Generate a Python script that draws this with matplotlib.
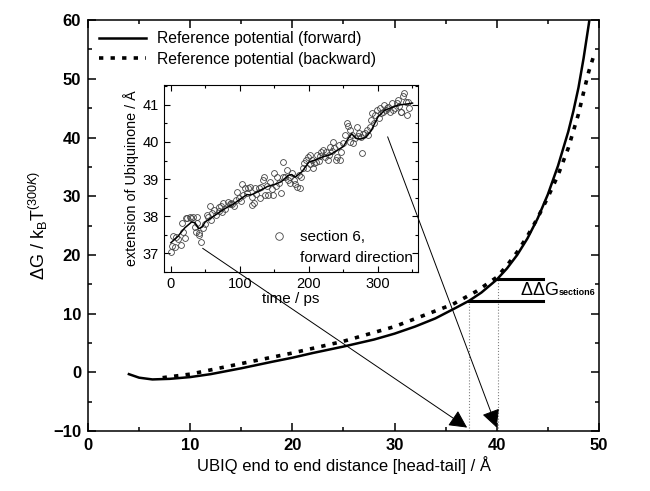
import numpy as np
import matplotlib
matplotlib.use("Agg")
from matplotlib import pyplot as plt
from matplotlib.patches import ConnectionPatch
from matplotlib.ticker import MultipleLocator

plt.rcParams['font.family'] = ['Liberation Sans', 'DejaVu Sans']
plt.rcParams['mathtext.fontset'] = 'custom'
plt.rcParams['mathtext.rm'] = 'Liberation Sans'
plt.rcParams['mathtext.it'] = 'Liberation Sans:italic'
plt.rcParams['mathtext.bf'] = 'Liberation Sans:bold'

# reference potential, forward pulling
fw_x = [4.0, 5.0, 6.3, 8.0, 10.0, 12.0, 15.0, 18.0, 20.0, 22.0, 25.0, 28.0, 30.0,
        32.0, 34.0, 36.0, 37.3, 38.5, 40.0, 41.0, 42.0, 43.0, 44.0, 45.0, 46.0,
        47.0, 47.5, 48.0, 48.5, 49.0, 49.15]
fw_y = [-0.3, -0.9, -1.2, -1.1, -0.8, -0.3, 0.7, 1.8, 2.5, 3.3, 4.4, 5.6, 6.6,
        7.8, 9.2, 11.0, 12.2, 13.6, 15.8, 17.7, 20.0, 22.8, 26.2, 30.3, 35.2,
        41.0, 44.5, 48.5, 53.5, 59.2, 61.0]

# reference potential, backward pulling
bw_x = [7.3, 10.0, 15.0, 20.0, 25.0, 30.0, 33.0, 35.7, 38.0, 40.0, 41.0, 42.0,
        43.0, 44.0, 45.0, 46.0, 47.0, 48.0, 48.5, 49.0, 49.6]
bw_y = [-0.9, -0.3, 1.5, 3.3, 5.3, 7.8, 9.8, 11.6, 13.8, 16.2, 18.2, 20.5,
        23.2, 26.3, 29.8, 33.6, 38.2, 44.0, 47.7, 51.2, 54.5]

# inset: section 6, forward direction
t_pts = [0, 2, 6, 3, 7, 11, 14, 16, 18, 20, 22, 24, 27, 29, 32, 35, 36, 38, 40,
         41, 43, 38, 47, 49, 52, 54, 56, 58, 60, 62, 65, 69, 70, 72, 74, 76, 78,
         82, 85, 87, 89, 91, 94, 96, 99, 101, 103, 105, 107, 110, 112, 115, 117,
         118, 120, 122, 124, 127, 129, 131, 134, 135, 136, 139, 141, 144, 146,
         148, 150, 152, 154, 157, 159, 162, 163, 165, 168, 170, 172, 173, 176,
         178, 180, 182, 185, 187, 189, 191, 193, 195, 197, 199, 201, 202, 205,
         206, 208, 210, 212, 214, 216, 218, 221, 223, 225, 227, 229, 230, 233,
         235, 237, 239, 241, 243, 245, 247, 250, 252, 255, 257, 259, 260, 262,
         264, 267, 269, 271, 273, 275, 277, 279, 281, 284, 286, 288, 290, 292,
         294, 296, 298, 301, 303, 305, 307, 309, 311, 313, 315, 317, 320, 322,
         325, 327, 329, 331, 333, 334, 336, 338, 340, 342, 344, 345]
ext_pts = [37.04, 37.20, 37.17, 37.46, 37.44, 37.37, 37.23, 37.80, 37.58, 37.40,
           37.96, 37.94, 37.98, 37.96, 37.97, 37.70, 37.58, 37.80, 37.55, 37.49,
           37.31, 37.98, 37.67, 37.78, 38.03, 37.98, 38.27, 37.89, 38.07, 38.16,
           38.03, 38.14, 38.25, 38.27, 38.12, 38.34, 38.20, 38.39, 38.32, 38.36,
           38.32, 38.27, 38.43, 38.66, 38.48, 38.42, 38.86, 38.57, 38.75, 38.61,
           38.75, 38.79, 38.52, 38.30, 38.36, 38.75, 38.59, 38.75, 38.48, 38.79,
           38.97, 39.06, 38.57, 38.81, 38.57, 38.93, 38.72, 38.57, 39.15, 38.81,
           39.06, 38.88, 38.61, 39.06, 39.47, 39.06, 39.24, 38.97, 39.06, 38.88,
           39.15, 38.97, 38.86, 38.79, 39.11, 38.77, 39.06, 39.29, 39.42, 39.51,
           39.29, 39.60, 39.40, 39.65, 39.51, 39.29, 39.42, 39.47, 39.65, 39.50,
           39.62, 39.74, 39.78, 39.59, 39.74, 39.51, 39.65, 39.87, 39.77, 40.01,
           39.83, 39.51, 39.60, 39.92, 39.51, 39.74, 39.96, 40.19, 40.52, 40.43,
           40.32, 40.01, 40.19, 39.96, 40.10, 40.41, 40.16, 40.23, 40.14, 39.69,
           40.22, 40.23, 40.32, 40.19, 40.41, 40.59, 40.77, 40.50, 40.73, 40.86,
           40.64, 40.91, 40.77, 40.82, 41.00, 40.86, 40.91, 40.95, 40.82, 41.05,
           40.86, 40.91, 41.05, 41.14, 40.97, 40.82, 40.82, 41.23, 41.32, 41.09,
           40.73, 41.09, 40.91]

# smoothed trace drawn through the inset points
t_avg = [0, 10, 20, 30, 35, 40, 45, 50, 60, 70, 80, 90, 100, 110, 115, 120, 130,
         140, 150, 160, 170, 175, 180, 190, 200, 210, 220, 230, 240, 250, 257,
         262, 268, 275, 282, 290, 300, 310, 320, 330, 340, 350]
ext_avg = [37.28, 37.45, 37.68, 37.84, 37.82, 37.66, 37.70, 37.85, 37.97, 38.10,
           38.22, 38.32, 38.45, 38.58, 38.57, 38.60, 38.70, 38.80, 38.85, 38.93,
           39.10, 39.12, 39.05, 39.20, 39.46, 39.52, 39.60, 39.65, 39.76, 39.88,
           40.10, 40.22, 40.10, 40.08, 40.12, 40.30, 40.68, 40.86, 40.93, 41.00,
           41.02, 41.05]

# ddG construction
x_lo, x_hi, x_end = 37.3, 40.1, 44.5
g_lo, g_hi = 12.2, 15.9

fig = plt.figure(figsize=(6.5, 4.91), dpi=100)
ax = fig.add_axes([0.1354, 0.122, 0.786, 0.837])

ax.plot(fw_x, fw_y, color='black', lw=1.8, label='Reference potential (forward)')
ax.plot(bw_x, bw_y, color='black', lw=2.6, dashes=(1.2, 2.0),
        label='Reference potential (backward)')

ax.plot([x_lo, x_lo], [-10, g_lo], color='gray', lw=0.8, ls=':')
ax.plot([x_hi, x_hi], [-10, g_hi], color='gray', lw=0.8, ls=':')
ax.plot([x_lo, x_end], [g_lo, g_lo], color='black', lw=2.2)
ax.plot([x_hi, x_end], [g_hi, g_hi], color='black', lw=2.2)
ddg = ax.text(42.3, 14.0, r'$\Delta\Delta$G', fontsize=13, va='center', ha='left')
ax.annotate('section6', xy=(1.0, 0.12), xycoords=ddg, fontsize=6.5,
            fontweight='bold', va='bottom', ha='left')

ax.set_xlim(0, 50)
ax.set_ylim(-10, 60)
ax.xaxis.set_major_locator(MultipleLocator(10))
ax.xaxis.set_minor_locator(MultipleLocator(5))
ax.yaxis.set_major_locator(MultipleLocator(10))
ax.yaxis.set_minor_locator(MultipleLocator(5))
ax.tick_params(which='both', direction='in', top=True, right=True, width=1.1)
ax.tick_params(which='major', length=6, labelsize=12, pad=5)
ax.tick_params(which='minor', length=3)
for lab in ax.get_xticklabels() + ax.get_yticklabels():
    lab.set_fontweight('bold')
for sp in ax.spines.values():
    sp.set_linewidth(1.1)
ax.set_xlabel('UBIQ end to end distance [head-tail] / Å', fontsize=12, labelpad=2)
ax.set_ylabel(r'$\Delta$G / k$_\mathrm{B}$T$^{(300K)}$', fontsize=13, labelpad=2)
ax.legend(loc='upper left', frameon=False, fontsize=11.3, handlelength=3.0,
          borderaxespad=0.3, labelspacing=0.35, handletextpad=0.7,
          bbox_to_anchor=(0.0, 1.0))

ins = fig.add_axes([0.2523, 0.446, 0.3908, 0.381])
ins.plot(t_pts, ext_pts, ls='none', marker='o', ms=4.2, mfc='none', mec='#444444',
         mew=0.6, label='section 6,')
ins.plot(t_avg, ext_avg, color='black', lw=1.1)
ins.set_xlim(-10, 358)
ins.set_ylim(36.49, 41.54)
ins.xaxis.set_major_locator(MultipleLocator(100))
ins.xaxis.set_minor_locator(MultipleLocator(50))
ins.yaxis.set_major_locator(MultipleLocator(1))
ins.yaxis.set_minor_locator(MultipleLocator(0.5))
ins.tick_params(which='both', direction='in', top=True, right=True, width=0.8)
ins.tick_params(which='major', length=4, labelsize=10.5)
ins.tick_params(which='minor', length=2)
for sp in ins.spines.values():
    sp.set_linewidth(0.8)
ins.set_xlabel('time / ps', fontsize=11, labelpad=1)
ins.set_ylabel('extension of Ubiquinone / Å', fontsize=10.3, labelpad=3)
ins.legend(loc='center left', bbox_to_anchor=(0.423, 0.185), frameon=False,
           fontsize=11, handlelength=1.0, handletextpad=0.9, borderaxespad=0,
           borderpad=0, markerscale=1.3)
ins.text(0.535, 0.075, 'forward direction', transform=ins.transAxes,
         fontsize=11, va='center', ha='left')

arrows = [((46, 37.13), (37.1, -9.4)), ((314, 40.14), (40.0, -9.4))]
for (a, b) in arrows:
    con = ConnectionPatch(xyA=a, coordsA=ins.transData, xyB=b, coordsB=ax.transData,
                          arrowstyle='-|>,head_length=0.55,head_width=0.28',
                          mutation_scale=20, lw=0.7, color='black',
                          shrinkA=0, shrinkB=0)
    fig.add_artist(con)

fig.savefig('out.png', dpi=100)
